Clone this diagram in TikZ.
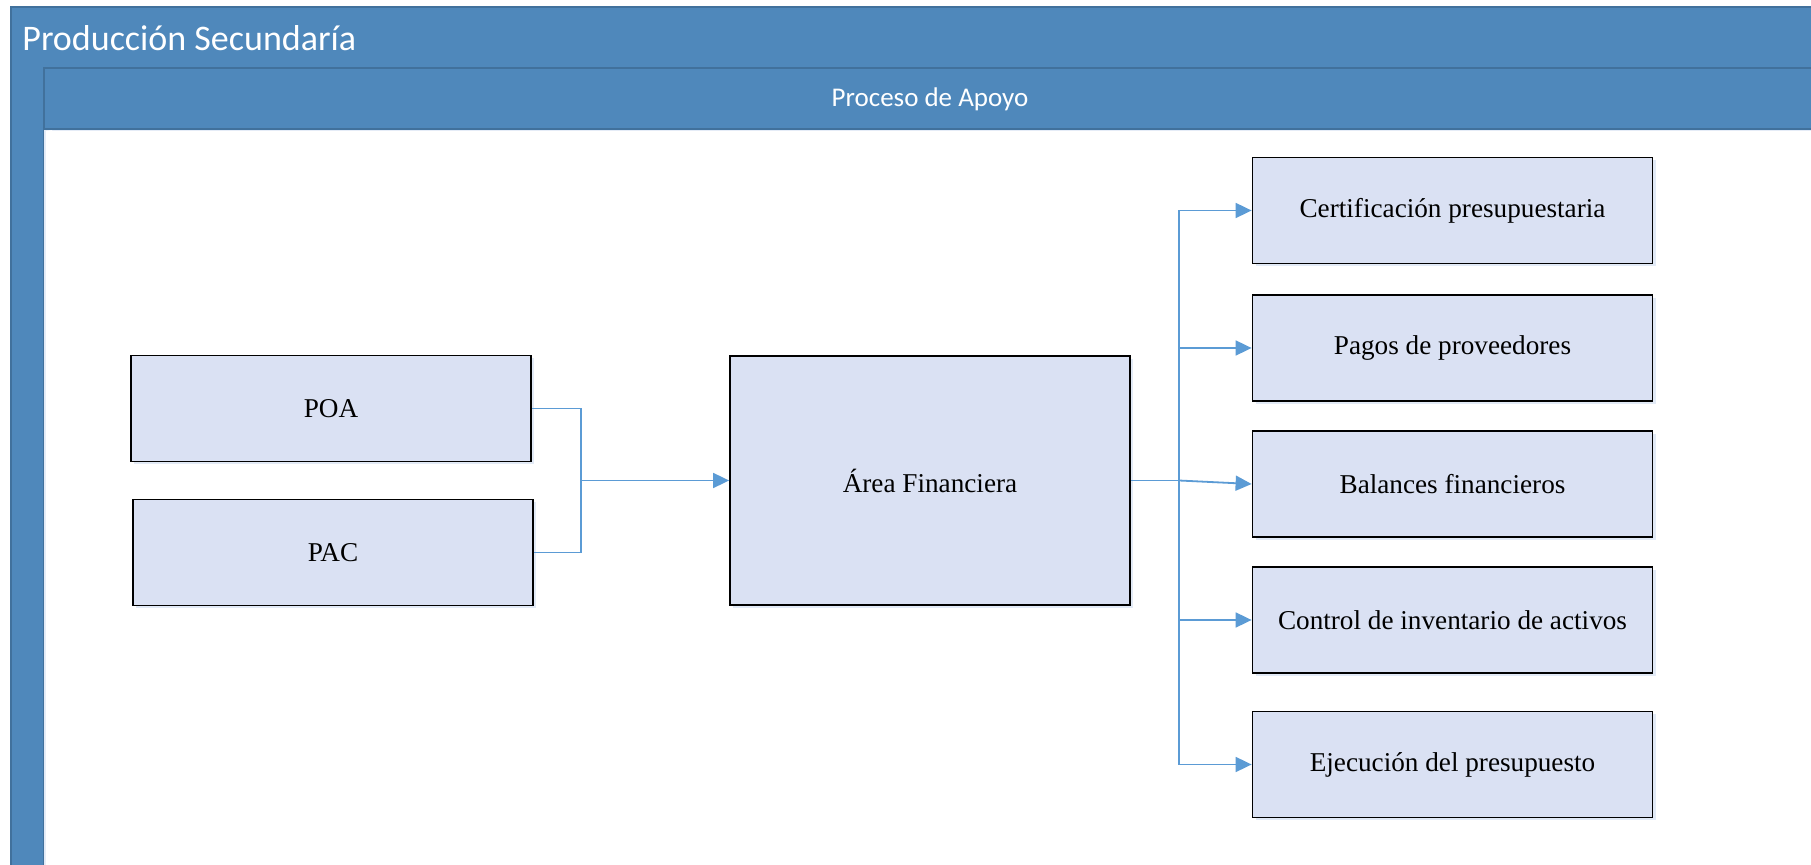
\documentclass[tikz,border=0pt]{standalone}
\usepackage{fontspec}
\setmainfont{Liberation Serif}
\newfontfamily\hdrfont{Carlito}
\usetikzlibrary{arrows.meta,shadows}

\definecolor{hdrblue}{RGB}{79,136,187}
\definecolor{hdrline}{RGB}{65,113,156}
\definecolor{boxfill}{RGB}{218,225,243}
\definecolor{boxshade}{RGB}{226,234,246}
\definecolor{conn}{RGB}{91,155,213}

\tikzset{
  procbox/.style={draw=black, line width=0.9pt, fill=boxfill,
    minimum width=200pt, minimum height=53pt, inner sep=0pt,
    font=\fontsize{13.6}{16}\selectfont,
    drop shadow={shadow xshift=1.5pt, shadow yshift=-1.5pt, fill=boxshade, opacity=1}},
  link/.style={draw=conn, line width=0.9pt},
  arrowlink/.style={link, -{Triangle[length=8pt, width=7.5pt]}},
  hdrtext/.style={text=white, inner sep=0pt}
}

\begin{document}
\begin{tikzpicture}[x=0.5pt, y=-0.5pt]
\useasboundingbox (0,0) rectangle (1811,865);
\fill[white] (0,0) rectangle (1811,865);

% pool and lane frames
\path[fill=hdrblue, draw=hdrline, line width=0.6pt] (11,7) rectangle (1830,890);
\path[fill=hdrblue, draw=hdrline, line width=0.6pt] (44,68) rectangle (1830,890);
\shade[top color=boxshade, bottom color=white] (44,129) rectangle (1830,140);
\shade[left color=boxshade, right color=white] (44,129) rectangle (52,890);
\path[fill=white] (46,131) rectangle (1830,890);
\draw[hdrline, line width=0.6pt] (44,129) -- (1830,129);

\node[hdrtext, anchor=west, font=\hdrfont\fontsize{18}{21}\selectfont] (pool) at (22,38) {Producción Secundaría};
\node[hdrtext, font=\hdrfont\fontsize{13.5}{16}\selectfont] (lane) at (930,99) {Proceso de Apoyo};

% process boxes
\node[procbox] (poa) at (331,408.5) {POA};
\node[procbox] (pac) at (333,552.5) {PAC};
\node[procbox, minimum height=124.5pt] (area) at (930,480.5) {Área Financiera};

\node[procbox] (cert) at (1452.5,210.5) {Certificación presupuestaria};
\node[procbox] (pago) at (1452.5,348) {Pagos de proveedores};
\node[procbox] (bal)  at (1452.5,484) {Balances financieros};
\node[procbox] (ctrl) at (1452.5,620) {Control de inventario de activos};
\node[procbox] (ejec) at (1452.5,764.5) {Ejecución del presupuesto};

% inputs merge into the financial area
\coordinate (jl) at (581,480.5);
\draw[link] (poa.east) -| (jl);
\draw[link] (pac.east) -| (jl);
\draw[arrowlink] (jl) -- (area.west);

% financial area feeds the outputs
\coordinate (jr) at (1179,480.5);
\draw[link] (area.east) -- (jr);
\draw[arrowlink] (jr) |- (cert.west);
\draw[arrowlink] (jr) |- (pago.west);
\draw[arrowlink] (jr) -- (bal.west);
\draw[arrowlink] (jr) |- (ctrl.west);
\draw[arrowlink] (jr) |- (ejec.west);
\end{tikzpicture}
\end{document}
